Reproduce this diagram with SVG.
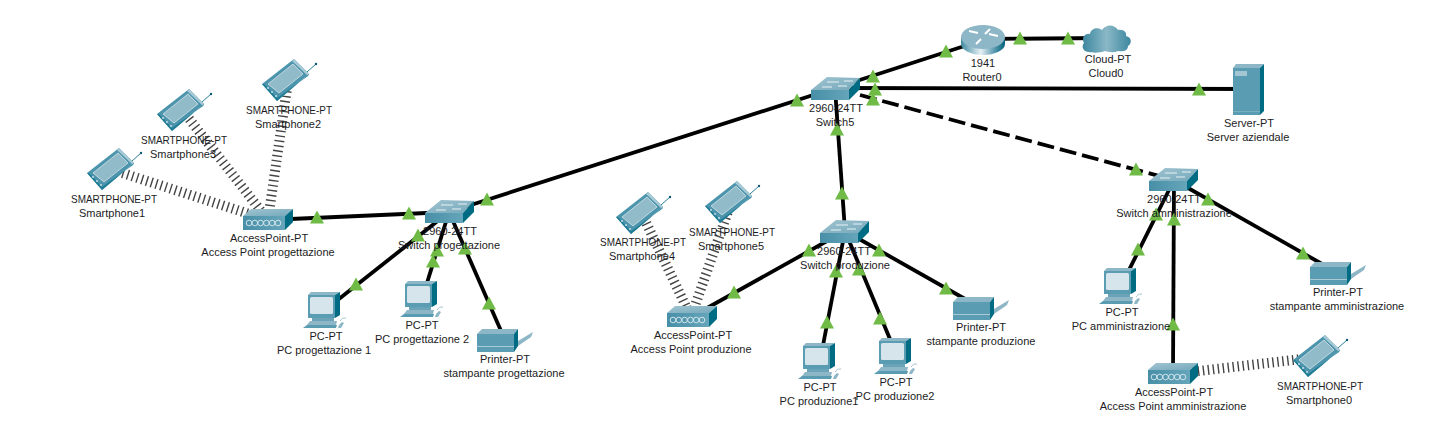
<svg xmlns="http://www.w3.org/2000/svg" width="1440" height="423" viewBox="0 0 1440 423">
<style>
text{font-family:"Liberation Sans",Arial,sans-serif;font-size:11px;fill:#1c1c24;text-anchor:middle}
.link{stroke:#000;stroke-width:3.8;fill:none}
.dash{stroke-dasharray:17 6}
.air{stroke:#444;stroke-width:10;stroke-dasharray:1.4 3.6;fill:none}
.top{fill:#8db6c6}
.front{fill:#5a9db3}
.side{fill:#006c84}
</style>
<defs>
<linearGradient id="gf" x1="0" x2="1" y1="0" y2="0"><stop offset="0" stop-color="#478fa7"/><stop offset="1" stop-color="#66a5ba"/></linearGradient>
<linearGradient id="gt" x1="0" x2="1" y1="0" y2="1"><stop offset="0" stop-color="#a2c4d1"/><stop offset="1" stop-color="#74a9bb"/></linearGradient>
<linearGradient id="gr" x1="0" x2="1" y1="0" y2="0"><stop offset="0" stop-color="#3f8ba2"/><stop offset=".45" stop-color="#e6f0f3"/><stop offset=".75" stop-color="#5c9cb1"/><stop offset="1" stop-color="#00627b"/></linearGradient>
<linearGradient id="gc" x1="0" x2="1" y1="0" y2="0"><stop offset="0" stop-color="#3c87a0"/><stop offset=".5" stop-color="#8ab8c6"/><stop offset="1" stop-color="#3c87a0"/></linearGradient>
<polygon id="tri" points="0,-6.500 7,6.500 -7,6.500" fill="#6fbb45"/>
<g id="switch">
<polygon points="0,13 16,0 49,1 38,13" fill="url(#gt)"/>
<rect y="13" width="38" height="10" fill="url(#gf)"/>
<polygon class="side" points="38,13 49,1 49,12 38,23"/>
<path d="M16,5h12M33,4h9M11,10h10M27,9h9" stroke="#e8f2f5" stroke-width="1" fill="none"/>
</g>
<g id="ap">
<polygon points="0,7 8,0 50,0 42,7" fill="url(#gt)"/>
<rect y="7" width="42" height="14" fill="url(#gf)"/>
<polygon class="side" points="42,7 50,0 50,13 42,21"/>
<g fill="none" stroke="#dcebf0" stroke-width=".9"><circle cx="6" cy="14" r="2.8"/><circle cx="11.800" cy="14" r="2.800"/><circle cx="17.600" cy="14" r="2.800"/><circle cx="23.400" cy="14" r="2.800"/><circle cx="29.200" cy="14" r="2.800"/><circle cx="35" cy="14" r="2.800"/></g>
</g>
<g id="phone">
<path d="M45,13L54,5" stroke="#2a7f98" stroke-width="1"/>
<circle cx="54" cy="5" r="1.200" fill="#0d5870"/>
<polygon points="0,25 32,0 47,15 15,42" fill="#4c95ad"/>
<polygon points="32,0 47,15 46,17 30,2" fill="#a7c9d5"/>
<polygon points="0,25 15,42 47,15 46,17 15,39 2,25" fill="#1f7d96"/>
<polygon points="6,25 31,5 41,15 17,34" fill="#92bbca" stroke="#d3e3e9" stroke-width=".8"/>
<circle cx="6" cy="29" r=".9" fill="#d8e6eb"/><circle cx="10" cy="33" r=".9" fill="#d8e6eb"/><circle cx="14" cy="37" r=".9" fill="#d8e6eb"/>
</g>
<g id="pc">
<polygon points="5,3 8,0 37,0 32,3" fill="#8db6c6"/>
<rect x="5" y="3" width="27" height="23" fill="#5a9db3"/>
<polygon class="side" points="32,3 37,0 37,23 32,26"/>
<rect x="7" y="5" width="23" height="17" rx="1.500" fill="#d6e4eb"/>
<rect x="9" y="26" width="22" height="3" fill="#6ba4b8"/>
<polygon points="4,33 7,29 34,29 33,33" fill="#8db6c6"/>
<polygon points="0,36 4,33 34,33 33,36" fill="#5a9db3"/>
<polygon points="36,33 39,30 41,31 38,36 35,36" fill="#8db6c6"/>
<path d="M37,29Q39,25 43,26" stroke="#a6c6d2" fill="none"/>
</g>
<g id="printer">
<polygon points="41,12 56,3 54,8 41,17" fill="#8db6c6"/>
<polygon points="0,5 5,0 41,0 37,5" fill="#8db6c6"/>
<rect y="5" width="37" height="18" class="front"/>
<rect y="17" width="37" height="1" fill="#a9cad5"/>
<polygon class="side" points="37,5 41,0 41,17 37,23"/>
</g>
</defs>
<rect width="1440" height="423" fill="#fff"/>
<g id="connectors">
<line class="air" x1="113" y1="170" x2="268" y2="220"/>
<line class="air" x1="183" y1="111" x2="268" y2="220"/>
<line class="air" x1="288" y1="81" x2="268" y2="220"/>
<line class="air" x1="642" y1="214" x2="691" y2="317"/>
<line class="air" x1="731" y1="203" x2="691" y2="317"/>
<line class="air" x1="1173" y1="374" x2="1319" y2="357"/>
<line class="link" x1="268" y1="220" x2="449" y2="212"/>
<line class="link" x1="449" y1="212" x2="835" y2="88"/>
<line class="link" x1="449" y1="212" x2="325" y2="310"/>
<line class="link" x1="449" y1="212" x2="422" y2="299"/>
<line class="link" x1="449" y1="212" x2="505" y2="340"/>
<line class="link" x1="835" y1="88" x2="983" y2="40"/>
<line class="link" x1="983" y1="39" x2="1106" y2="38"/>
<line class="link" x1="835" y1="88" x2="1249" y2="89"/>
<line class="link dash" x1="860" y1="95" x2="1174" y2="180"/>
<line class="link" x1="835" y1="88" x2="845" y2="231"/>
<line class="link" x1="845" y1="231" x2="691" y2="317"/>
<line class="link" x1="845" y1="231" x2="820" y2="361"/>
<line class="link" x1="845" y1="231" x2="897" y2="356"/>
<line class="link" x1="845" y1="231" x2="981" y2="308"/>
<line class="link" x1="1174" y1="180" x2="1121" y2="286"/>
<line class="link" x1="1174" y1="180" x2="1173" y2="374"/>
<line class="link" x1="1174" y1="180" x2="1338" y2="273"/>
<g id="link-lights">
<use href="#tri" x="317" y="217"/><use href="#tri" x="409" y="213"/><use href="#tri" x="487" y="199"/><use href="#tri" x="797" y="100"/>
<use href="#tri" x="418" y="235"/><use href="#tri" x="356" y="284"/><use href="#tri" x="437" y="250"/><use href="#tri" x="433" y="261"/>
<use href="#tri" x="465" y="248"/><use href="#tri" x="489" y="303"/><use href="#tri" x="873" y="76"/><use href="#tri" x="946" y="51"/>
<use href="#tri" x="1020" y="38"/><use href="#tri" x="1068" y="38"/><use href="#tri" x="875" y="89"/><use href="#tri" x="1199" y="89"/>
<use href="#tri" x="873" y="99"/><use href="#tri" x="1136" y="169"/><use href="#tri" x="837" y="129"/><use href="#tri" x="842" y="193"/>
<use href="#tri" x="809" y="250"/><use href="#tri" x="734" y="292"/><use href="#tri" x="879" y="250"/><use href="#tri" x="946" y="288"/>
<use href="#tri" x="836" y="271"/><use href="#tri" x="827" y="322"/><use href="#tri" x="859" y="269"/><use href="#tri" x="880" y="318"/>
<use href="#tri" x="1208" y="199"/><use href="#tri" x="1303" y="253"/><use href="#tri" x="1156" y="214"/><use href="#tri" x="1138" y="249"/>
<use href="#tri" x="1174" y="219"/><use href="#tri" x="1173" y="324"/>
</g>
</g>
<g id="smartphone1"><use href="#phone" x="87" y="148"/><text x="114" y="203" textLength="86" lengthAdjust="spacingAndGlyphs">SMARTPHONE-PT</text><text x="112" y="217">Smartphone1</text></g>
<g id="smartphone3"><use href="#phone" x="157" y="89"/><text x="184" y="144" textLength="86" lengthAdjust="spacingAndGlyphs">SMARTPHONE-PT</text><text x="183" y="158">Smartphone3</text></g>
<g id="smartphone2"><use href="#phone" x="262" y="59"/><text x="289" y="114" textLength="86" lengthAdjust="spacingAndGlyphs">SMARTPHONE-PT</text><text x="288" y="128">Smartphone2</text></g>
<g id="ap-progettazione"><use href="#ap" x="243" y="209"/><text x="269" y="242">AccessPoint-PT</text><text x="268" y="256">Access Point progettazione</text></g>
<g id="switch-progettazione"><use href="#switch" x="425" y="200"/><text x="450" y="235">2960-24TT</text><text x="449" y="249">Switch progettazione</text></g>
<g id="pc-progettazione-1"><use href="#pc" x="303" y="292"/><text x="326" y="340">PC-PT</text><text x="324" y="354">PC progettazione 1</text></g>
<g id="pc-progettazione-2"><use href="#pc" x="400" y="281"/><text x="422" y="329">PC-PT</text><text x="422" y="343">PC progettazione 2</text></g>
<g id="stampante-progettazione"><use href="#printer" x="477" y="329"/><text x="505" y="363">Printer-PT</text><text x="504" y="377">stampante progettazione</text></g>
<g id="switch5"><use href="#switch" x="811" y="77"/><text x="836" y="112">2960-24TT</text><text x="835" y="126">Switch5</text></g>
<g id="router0">
<path d="M961,37V44C961,50 971,55 983,55S1005,50 1005,44V37Z" fill="url(#gr)"/>
<ellipse cx="983" cy="37" rx="22" ry="12" fill="#8db6c6"/>
<path d="M969,31l9,2M990,29l-5,5M998,36l-9,-2M976,44l5,-5" stroke="#fff" stroke-width="2" fill="none"/>
<text x="983" y="67">1941</text><text x="982" y="81">Router0</text></g>
<g id="cloud0">
<path d="M1089,52C1083,52 1081,46 1084,43C1081,38 1085,33 1090,34C1091,28 1098,27 1102,30C1106,24 1114,24 1118,30C1124,29 1127,33 1126,36C1132,37 1132,44 1128,46C1128,51 1122,52 1118,51C1114,53 1108,52 1105,51C1100,53 1093,53 1089,52Z" fill="url(#gc)"/>
<text x="1108" y="63">Cloud-PT</text><text x="1106" y="77">Cloud0</text></g>
<g id="server-aziendale">
<polygon points="1233,68 1236,64 1264,64 1260,68" fill="#8db6c6"/>
<rect x="1233" y="68" width="27" height="47" class="front"/>
<polygon class="side" points="1260,68 1264,64 1264,111 1260,115"/>
<rect x="1235" y="71" width="12" height="5" fill="#a4c6d2"/>
<rect x="1233" y="111" width="27" height="1" fill="#79afc1"/>
<text x="1249" y="127">Server-PT</text><text x="1248" y="141">Server aziendale</text></g>
<g id="smartphone4"><use href="#phone" x="616" y="192"/><text x="643" y="246" textLength="86" lengthAdjust="spacingAndGlyphs">SMARTPHONE-PT</text><text x="642" y="260">Smartphone4</text></g>
<g id="smartphone5"><use href="#phone" x="705" y="181"/><text x="732" y="236" textLength="86" lengthAdjust="spacingAndGlyphs">SMARTPHONE-PT</text><text x="731" y="250">Smartphone5</text></g>
<g id="ap-produzione"><use href="#ap" x="667" y="306"/><text x="693" y="339">AccessPoint-PT</text><text x="691" y="353">Access Point produzione</text></g>
<g id="switch-produzione"><use href="#switch" x="820" y="220"/><text x="844" y="255">2960-24TT</text><text x="845" y="269">Switch produzione</text></g>
<g id="pc-produzione1"><use href="#pc" x="798" y="343"/><text x="820" y="391">PC-PT</text><text x="819" y="405">PC produzione1</text></g>
<g id="pc-produzione2"><use href="#pc" x="874" y="338"/><text x="896" y="386">PC-PT</text><text x="895" y="400">PC produzione2</text></g>
<g id="stampante-produzione"><use href="#printer" x="953" y="297"/><text x="981" y="331">Printer-PT</text><text x="981" y="345">stampante produzione</text></g>
<g id="switch-amministrazione"><use href="#switch" x="1149" y="168"/><text x="1174" y="203">2960-24TT</text><text x="1174" y="217">Switch amministrazione</text></g>
<g id="pc-amministrazione"><use href="#pc" x="1099" y="268"/><text x="1122" y="316">PC-PT</text><text x="1121" y="330">PC amministrazione</text></g>
<g id="stampante-amministrazione"><use href="#printer" x="1310" y="262"/><text x="1338" y="296">Printer-PT</text><text x="1337" y="310">stampante amministrazione</text></g>
<g id="ap-amministrazione"><use href="#ap" x="1148" y="363"/><text x="1174" y="396">AccessPoint-PT</text><text x="1173" y="410">Access Point amministrazione</text></g>
<g id="smartphone0"><use href="#phone" x="1293" y="335"/><text x="1320" y="390" textLength="86" lengthAdjust="spacingAndGlyphs">SMARTPHONE-PT</text><text x="1319" y="404">Smartphone0</text></g>
</svg>
